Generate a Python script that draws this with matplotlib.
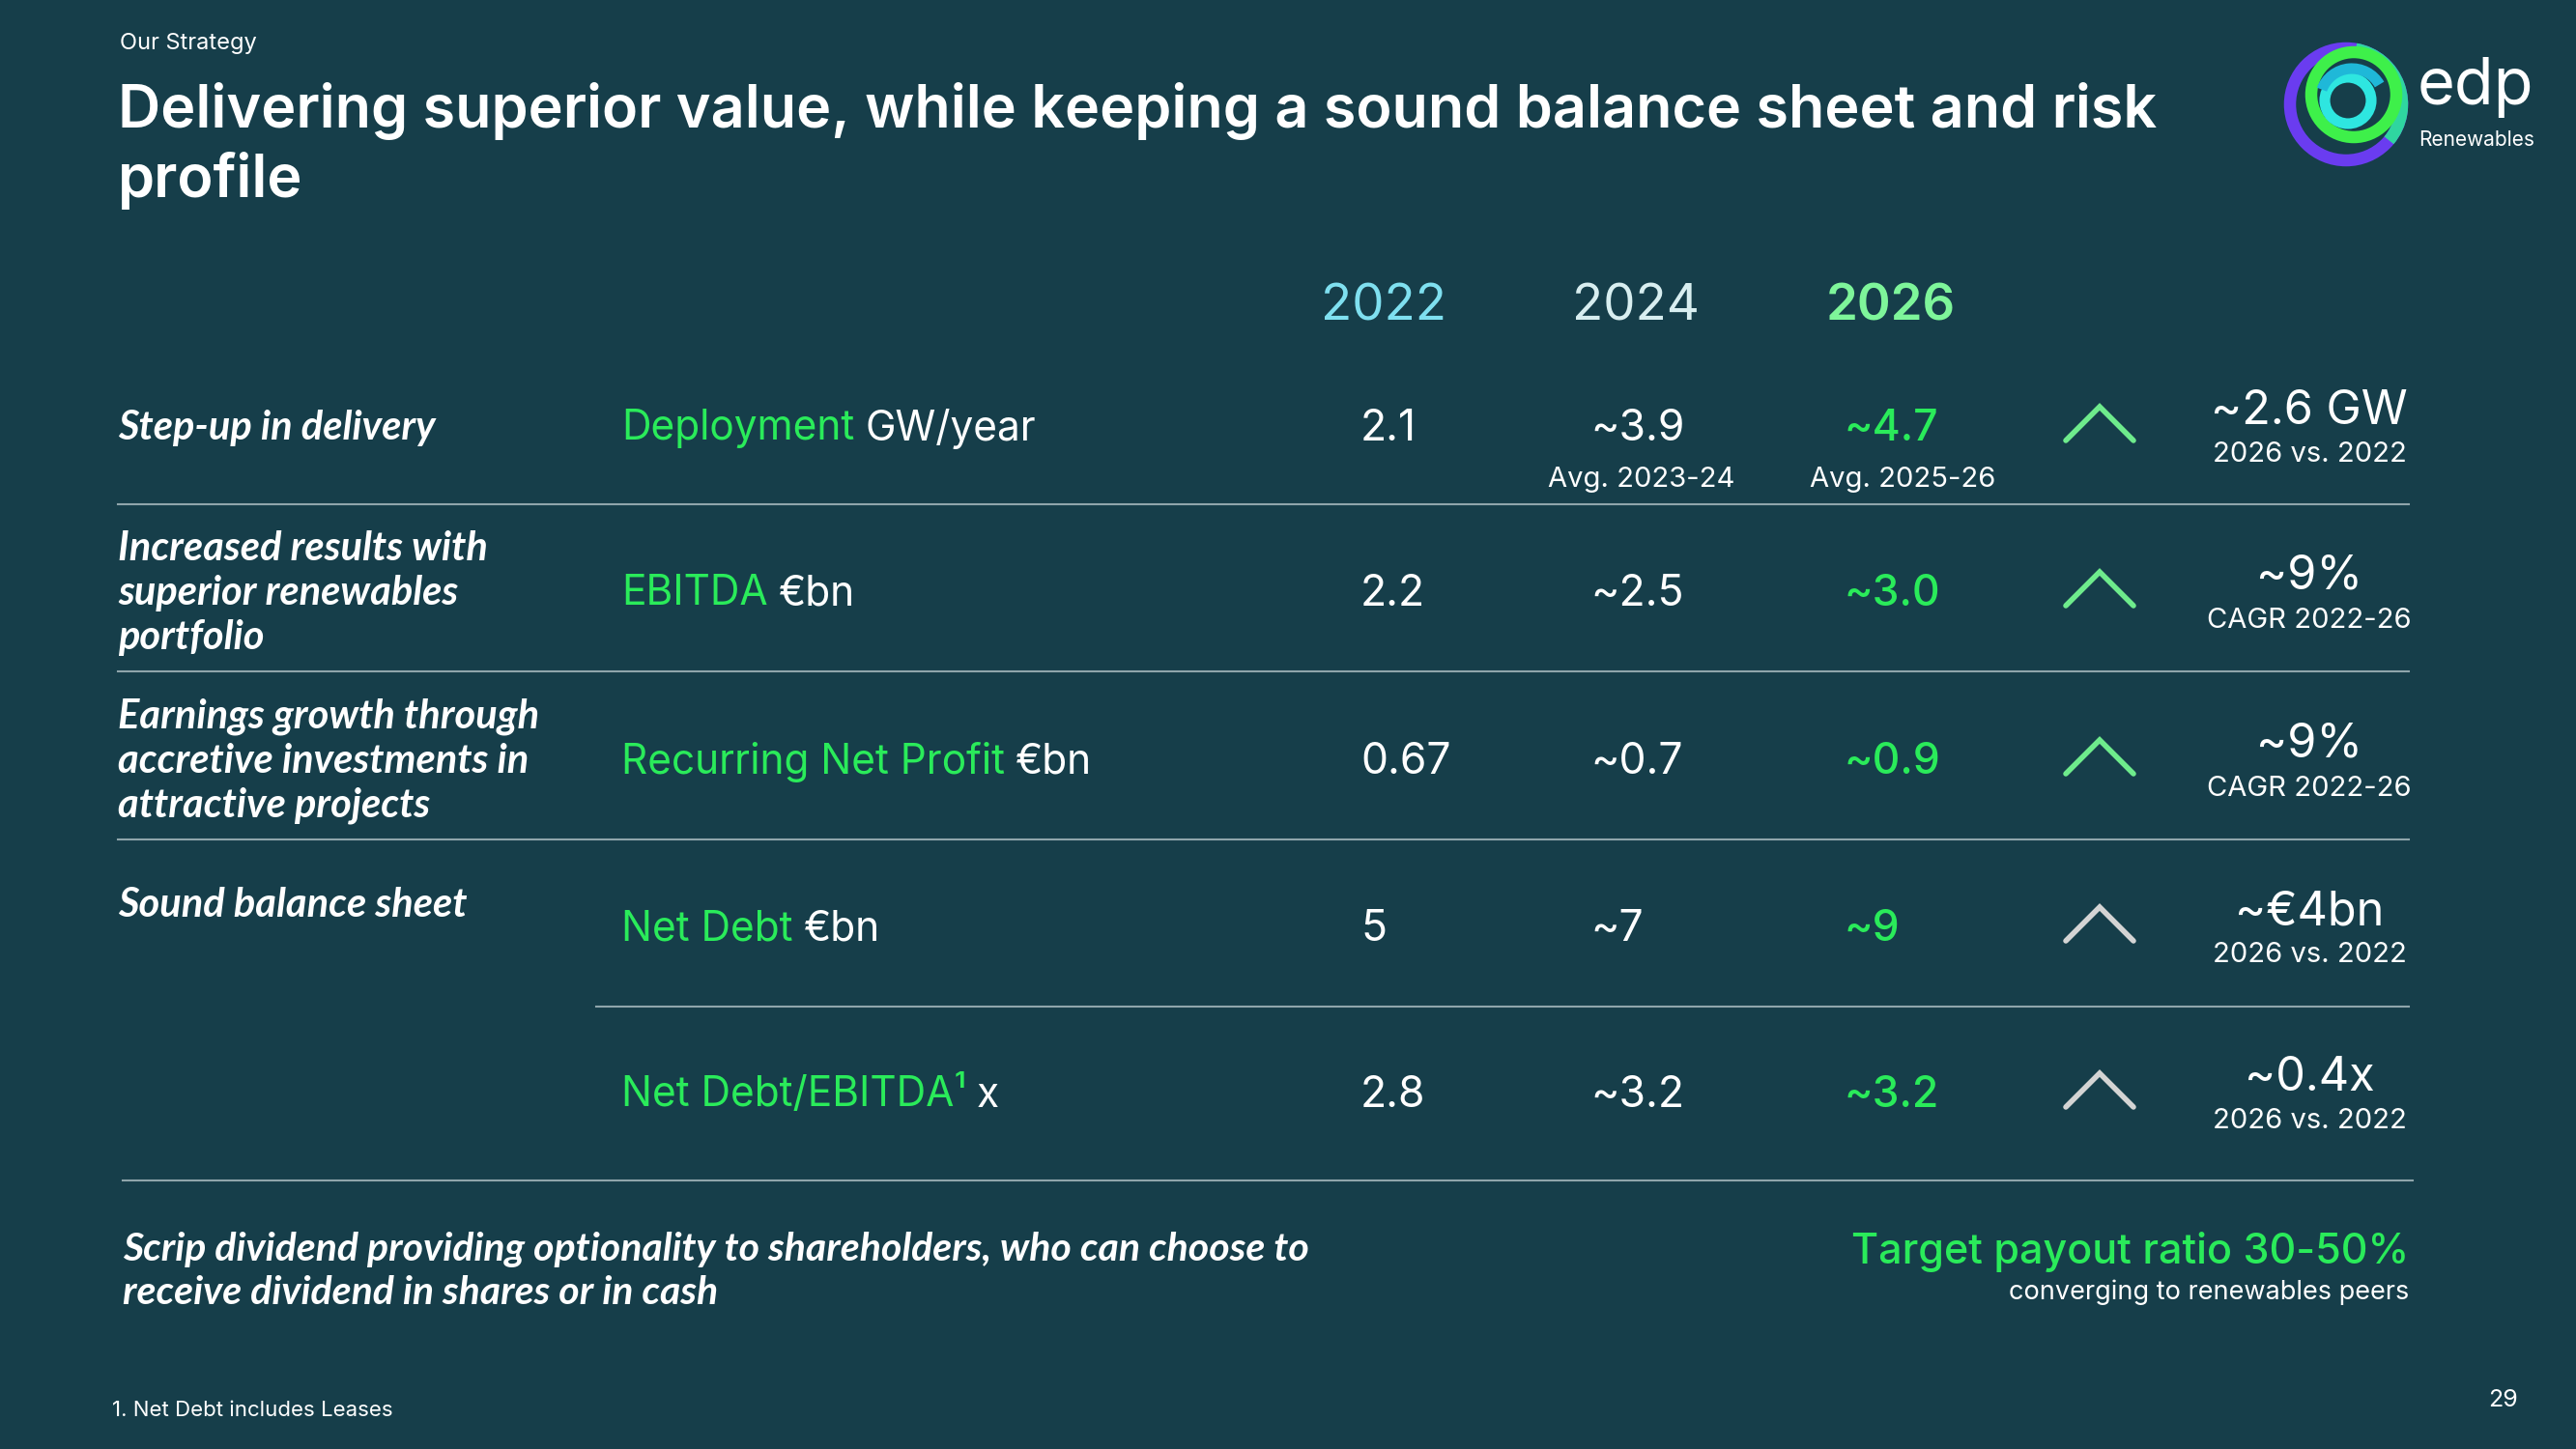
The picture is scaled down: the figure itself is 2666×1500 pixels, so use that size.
import matplotlib
matplotlib.use("Agg")
import matplotlib.pyplot as plt
from matplotlib.patches import Circle, Arc

# slide content
metrics = ["Deployment", "EBITDA", "Recurring Net Profit", "Net Debt", "Net Debt/EBITDA\u00b9"]
units = ["GW/year", "\u20acbn", "\u20acbn", "\u20acbn", "x"]
years = ["2022", "2024", "2026"]
v2022 = ["2.1", "2.2", "0.67", "5", "2.8"]
v2024 = ["~3.9", "~2.5", "~0.7", "~7", "~3.2"]
v2026 = ["~4.7", "~3.0", "~0.9", "~9", "~3.2"]
change = ["~2.6 GW", "~9%", "~9%", "~\u20ac4bn", "~0.4x"]
change_sub = ["2026 vs. 2022", "CAGR 2022-26", "CAGR 2022-26", "2026 vs. 2022", "2026 vs. 2022"]
themes = ["Step-up in delivery",
          "Increased results with\nsuperior renewables\nportfolio",
          "Earnings growth through\naccretive investments in\nattractive projects",
          "Sound balance sheet"]

BG = "#163e4a"
GREEN = "#2aeb5a"
W, H = 2666, 1500

plt.rcParams["font.family"] = ["Inter", "DejaVu Sans"]

fig = plt.figure(figsize=(W / 100, H / 100), dpi=100, facecolor=BG)
ax = fig.add_axes([0, 0, 1, 1])
ax.set_xlim(0, W)
ax.set_ylim(H, 0)
ax.axis("off")
ax.set_facecolor(BG)

renderer = fig.canvas.get_renderer()


def width_px(t):
    bb = t.get_window_extent(renderer=renderer)
    return bb.width


# header
ax.text(124, 45, "Our Strategy", color="white", fontsize=17, va="center")
ax.text(122, 115, "Delivering superior value, while keeping a sound balance sheet and risk",
        color="white", fontsize=44, fontweight="semibold", va="center")
ax.text(122, 187, "profile", color="white", fontsize=44, fontweight="semibold", va="center")

# logo
ax.add_patch(Circle((2428, 108), 58, fill=False, lw=9, ec="#6a3cf0"))
ax.add_patch(Arc((2428, 108), 116, 116, theta1=-80, theta2=40, lw=9, color="#2fd6a0"))
ax.add_patch(Circle((2436, 98), 44, fill=False, lw=9, ec="#3ef04a"))
ax.add_patch(Circle((2430, 104), 24, fill=False, lw=8, ec="#2ee6e0"))
ax.add_patch(Arc((2434, 104), 66, 66, theta1=200, theta2=330, lw=8, color="#1fb8d8"))
ax.text(2502, 90, "edp", color="white", fontsize=48, va="center")
ax.text(2503, 145, "Renewables", color="white", fontsize=15, va="center")

# year headers
year_x = [1432, 1693, 1957]
year_col = ["#7fe0f0", "#d8eef0", "#7ef59a"]
year_w = ["normal", "normal", "semibold"]
for x, yr, c, fw in zip(year_x, years, year_col, year_w):
    ax.text(x, 318, yr, color=c, fontsize=38, fontweight=fw, ha="center", va="center")

row_y = [439, 610, 784, 957, 1129]
theme_y = [443, 614, 788, 937]
for ty, th in zip(theme_y, themes):
    ax.text(122, ty, th, color="white", fontsize=30, family="Lato", style="italic",
            fontweight="bold", va="center", linespacing=1.25)

for i, y in enumerate(row_y):
    ty = y + 5
    t = ax.text(643, ty, metrics[i], color=GREEN, fontsize=30.5, va="center")
    w = width_px(t)
    ax.text(643 + w + 11, ty, units[i], color="white", fontsize=30.5, va="center")
    ax.text(1408, ty, v2022[i], color="white", fontsize=32, va="center")
    ax.text(1646, ty, v2024[i], color="white", fontsize=32, va="center")
    ax.text(1908, ty, v2026[i], color=GREEN, fontsize=32, fontweight="medium", va="center")
    ccol = "#6eeb8c" if i < 3 else "#d4d4d4"
    ax.plot([2138, 2173, 2208], [y + 17, y - 18, y + 17],
            color=ccol, lw=4, solid_capstyle="round", solid_joinstyle="miter")
    ax.text(2390, y - 13, change[i], color="white", fontsize=35, ha="center", va="center")
    ax.text(2390, y + 32, change_sub[i], color="white", fontsize=21, ha="center", va="center")

ax.text(1699, 497, "Avg. 2023-24", color="white", fontsize=21, ha="center", va="center")
ax.text(1969, 497, "Avg. 2025-26", color="white", fontsize=21, ha="center", va="center")

# separators
sep_c = "#8fa5ab"
for y in [522, 695, 869]:
    ax.plot([122, 2493], [y, y], color=sep_c, lw=1.5)
ax.plot([617, 2493], [1042, 1042], color=sep_c, lw=1.5)
ax.plot([127, 2497], [1222, 1222], color=sep_c, lw=1.5)

# bottom
ax.text(127, 1316, "Scrip dividend providing optionality to shareholders, who can choose to\n"
        "receive dividend in shares or in cash", color="white", fontsize=29.5, family="Lato",
        style="italic", fontweight="bold", va="center", linespacing=1.25)
ax.text(2493, 1296, "Target payout ratio 30-50%", color=GREEN, fontsize=31,
        fontweight="medium", ha="right", va="center")
ax.text(2493, 1338, "converging to renewables peers", color="white", fontsize=19.5,
        ha="right", va="center")
ax.text(116, 1460, "1. Net Debt includes Leases", color="white", fontsize=16, va="center")
ax.text(2606, 1450, "29", color="white", fontsize=18, ha="right", va="center")

fig.savefig("out.png", dpi=100, facecolor=BG)
